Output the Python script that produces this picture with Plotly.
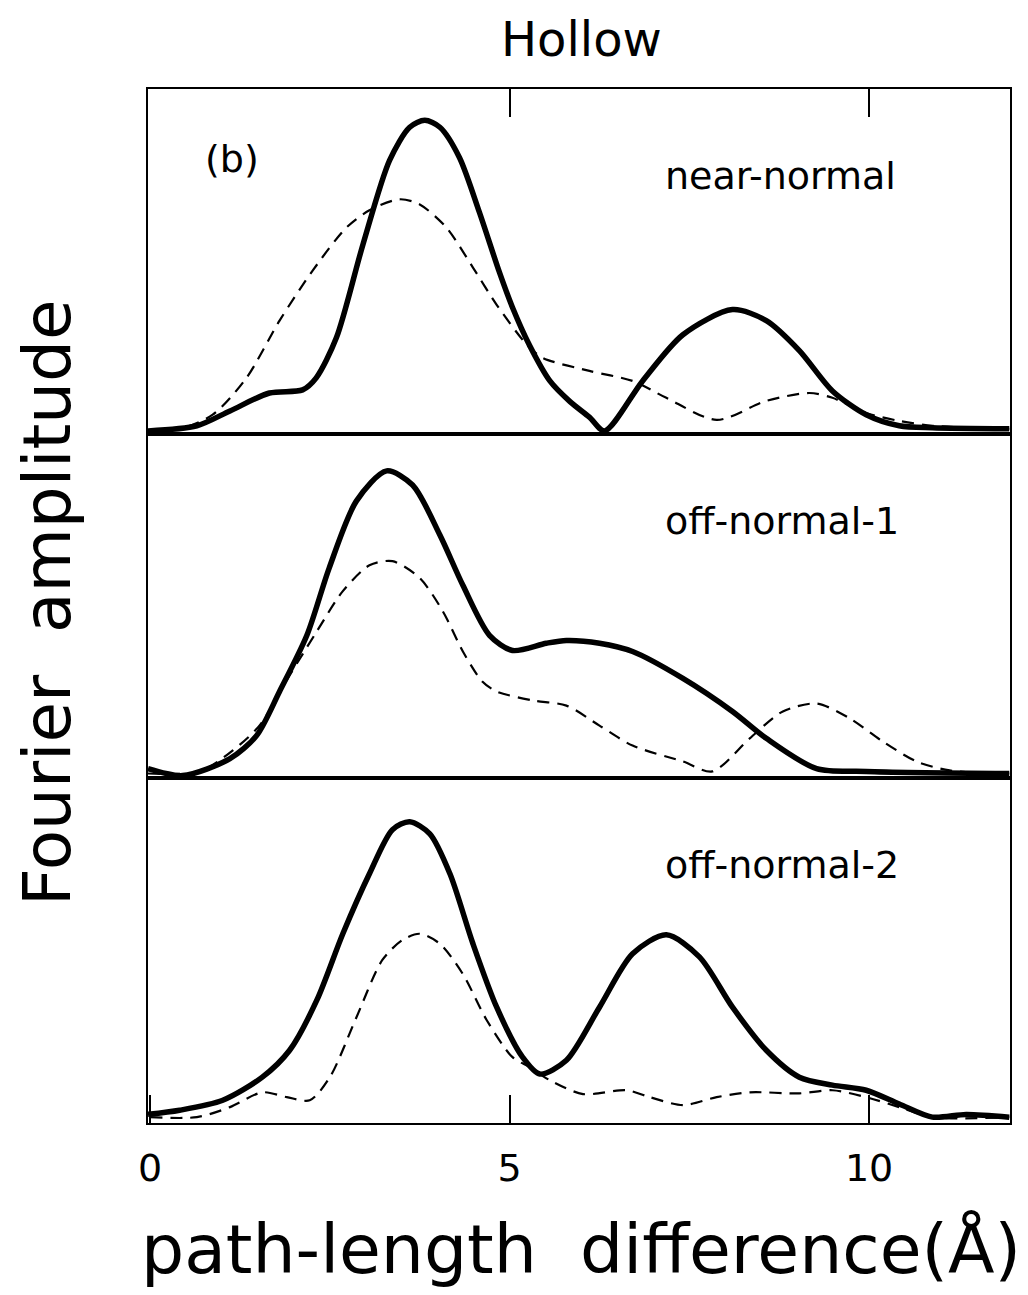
import plotly.graph_objects as go
from plotly.subplots import make_subplots

# ---- data (x: path-length difference in Å, amplitude in arbitrary units) ----
near_solid_x = [-0.03, 0.65, 1.11, 1.66, 2.12, 2.31, 2.59, 2.96, 3.33, 3.61, 3.82, 4.03, 4.30, 4.58, 4.86, 5.04, 5.28, 5.56, 5.84, 6.11, 6.32, 6.85, 7.41, 8.10, 8.57, 9.03, 9.49, 9.96, 10.42, 10.88, 11.95]
near_solid_y = [0.00, 0.15, 0.58, 1.10, 1.19, 1.54, 2.70, 5.41, 7.85, 8.81, 9.01, 8.81, 7.94, 6.34, 4.59, 3.58, 2.47, 1.45, 0.85, 0.40, 0.00, 1.45, 2.79, 3.52, 3.20, 2.33, 1.16, 0.47, 0.15, 0.09, 0.06]
near_dash_x = [-0.03, 0.41, 0.87, 1.34, 1.80, 2.26, 2.73, 3.05, 3.47, 3.75, 4.12, 4.49, 4.82, 5.24, 5.46, 6.11, 6.71, 7.18, 7.88, 8.57, 9.17, 9.49, 9.96, 10.42, 10.88, 11.95]
near_dash_y = [0.00, 0.06, 0.47, 1.54, 3.20, 4.65, 5.90, 6.40, 6.72, 6.57, 5.90, 4.74, 3.66, 2.50, 2.12, 1.74, 1.45, 0.96, 0.32, 0.87, 1.10, 0.96, 0.52, 0.29, 0.15, 0.06]

off1_solid_x = [-0.03, 0.45, 1.11, 1.48, 1.80, 2.18, 2.49, 2.87, 3.29, 3.65, 4.03, 4.35, 4.72, 5.04, 5.51, 5.79, 6.25, 6.71, 7.41, 8.10, 8.57, 9.27, 9.96, 11.95]
off1_solid_y = [0.20, 0.00, 0.49, 1.16, 2.44, 4.07, 6.02, 7.97, 8.84, 8.43, 6.98, 5.52, 4.07, 3.63, 3.84, 3.92, 3.84, 3.60, 2.82, 1.86, 1.08, 0.20, 0.12, 0.06]
off1_dash_x = [-0.03, 0.69, 1.15, 1.52, 1.94, 2.32, 2.68, 3.05, 3.37, 3.75, 4.07, 4.35, 4.62, 4.82, 5.32, 5.79, 6.25, 6.71, 7.41, 7.82, 8.34, 8.80, 9.27, 9.73, 10.19, 10.66, 11.12, 11.95]
off1_dash_y = [0.06, 0.12, 0.73, 1.45, 2.91, 4.19, 5.35, 6.10, 6.22, 5.73, 4.77, 3.60, 2.73, 2.44, 2.18, 2.03, 1.45, 0.87, 0.41, 0.12, 1.08, 1.86, 2.09, 1.66, 0.99, 0.41, 0.15, 0.06]

off2_solid_x = [-0.03, 0.41, 1.01, 1.56, 1.94, 2.32, 2.68, 3.05, 3.37, 3.61, 3.89, 4.17, 4.49, 4.82, 5.18, 5.42, 5.79, 6.25, 6.71, 7.18, 7.64, 8.10, 8.57, 9.03, 9.49, 9.96, 10.42, 10.88, 11.35, 11.95]
off2_solid_y = [0.17, 0.29, 0.58, 1.25, 2.03, 3.49, 5.41, 7.15, 8.43, 8.66, 8.31, 7.15, 5.12, 3.28, 1.83, 1.34, 1.74, 3.28, 4.83, 5.38, 4.74, 3.28, 2.03, 1.25, 1.02, 0.87, 0.47, 0.09, 0.17, 0.09]
off2_dash_x = [0.00, 0.65, 1.11, 1.56, 1.90, 2.22, 2.50, 2.87, 3.23, 3.51, 3.75, 4.03, 4.35, 4.68, 5.04, 5.28, 5.56, 6.02, 6.63, 6.95, 7.41, 7.88, 8.34, 9.03, 9.49, 9.96, 10.42, 10.88, 11.95]
off2_dash_y = [0.09, 0.09, 0.38, 0.81, 0.67, 0.58, 1.25, 2.99, 4.65, 5.23, 5.41, 5.12, 4.24, 2.91, 1.83, 1.54, 1.16, 0.76, 0.87, 0.67, 0.44, 0.67, 0.81, 0.78, 0.87, 0.67, 0.38, 0.09, 0.09]

panel_labels = ["near-normal", "off-normal-1", "off-normal-2"]
tick_vals = [0, 5, 10]
tick_text = ["0", "5", "10"]

FONT = "DejaVu Sans"

fig = make_subplots(rows=3, cols=1, shared_xaxes=True, vertical_spacing=0)

panels = [
    (near_solid_x, near_solid_y, near_dash_x, near_dash_y),
    (off1_solid_x, off1_solid_y, off1_dash_x, off1_dash_y),
    (off2_solid_x, off2_solid_y, off2_dash_x, off2_dash_y),
]
for i, (sx, sy, dx, dy) in enumerate(panels, start=1):
    fig.add_trace(go.Scatter(x=dx, y=dy, mode="lines",
                             line=dict(color="black", width=2.2, dash="12px,8px", shape="spline", smoothing=0.8),
                             showlegend=False, hoverinfo="skip"), row=i, col=1)
    fig.add_trace(go.Scatter(x=sx, y=sy, mode="lines",
                             line=dict(color="black", width=5.5, shape="spline", smoothing=0.8),
                             showlegend=False, hoverinfo="skip"), row=i, col=1)
    fig.add_annotation(x=7.14, y=7.4, xref=f"x{i}" if i > 1 else "x", yref=f"y{i}" if i > 1 else "y",
                       text=panel_labels[i - 1], showarrow=False, xanchor="left", yanchor="middle",
                       font=dict(family=FONT, size=38, color="black"))

fig.add_annotation(x=0.74, y=7.9, xref="x", yref="y", text="(b)", showarrow=False,
                   xanchor="left", yanchor="middle", font=dict(family=FONT, size=38, color="black"))

XR = [-0.03, 11.96]
YR = [-0.08, 9.92]
common_x = dict(range=XR, showline=True, linecolor="black", linewidth=2, mirror=True,
                showgrid=False, zeroline=False)
common_y = dict(range=YR, showline=True, linecolor="black", linewidth=2, mirror=True,
                showgrid=False, zeroline=False, showticklabels=False, ticks="")

fig.update_layout(
    xaxis=dict(**common_x, side="top", ticks="inside", tickvals=[5, 10], ticklen=28,
               tickwidth=2, tickcolor="black", showticklabels=False),
    xaxis2=dict(**common_x, ticks="", showticklabels=False),
    xaxis3=dict(**common_x, ticks="inside", tickvals=tick_vals, ticktext=tick_text, ticklen=28,
                tickwidth=2, tickcolor="black", showticklabels=True, ticklabelstandoff=10,
                tickfont=dict(family=FONT, size=38, color="black")),
    yaxis=common_y, yaxis2=common_y, yaxis3=common_y,
)

fig.add_annotation(x=0.503, y=1, xref="paper", yref="paper", yshift=50, text="Hollow",
                   showarrow=False, xanchor="center", yanchor="middle",
                   font=dict(family=FONT, size=48, color="black"))
fig.add_annotation(x=0, y=0.503, xref="paper", yref="paper", xshift=-100, text="Fourier  amplitude",
                   showarrow=False, textangle=-90, xanchor="center", yanchor="middle",
                   font=dict(family=FONT, size=66, color="black"))
fig.add_annotation(x=0.502, y=0, xref="paper", yref="paper", yshift=-126,
                   text="path-length  difference(Å)", showarrow=False, xanchor="center",
                   yanchor="middle", font=dict(family=FONT, size=68, color="black"))

fig.update_layout(width=1028, height=1295, margin=dict(l=148, r=18, t=89, b=172),
                  paper_bgcolor="white", plot_bgcolor="white")

fig.write_html("out.html")
